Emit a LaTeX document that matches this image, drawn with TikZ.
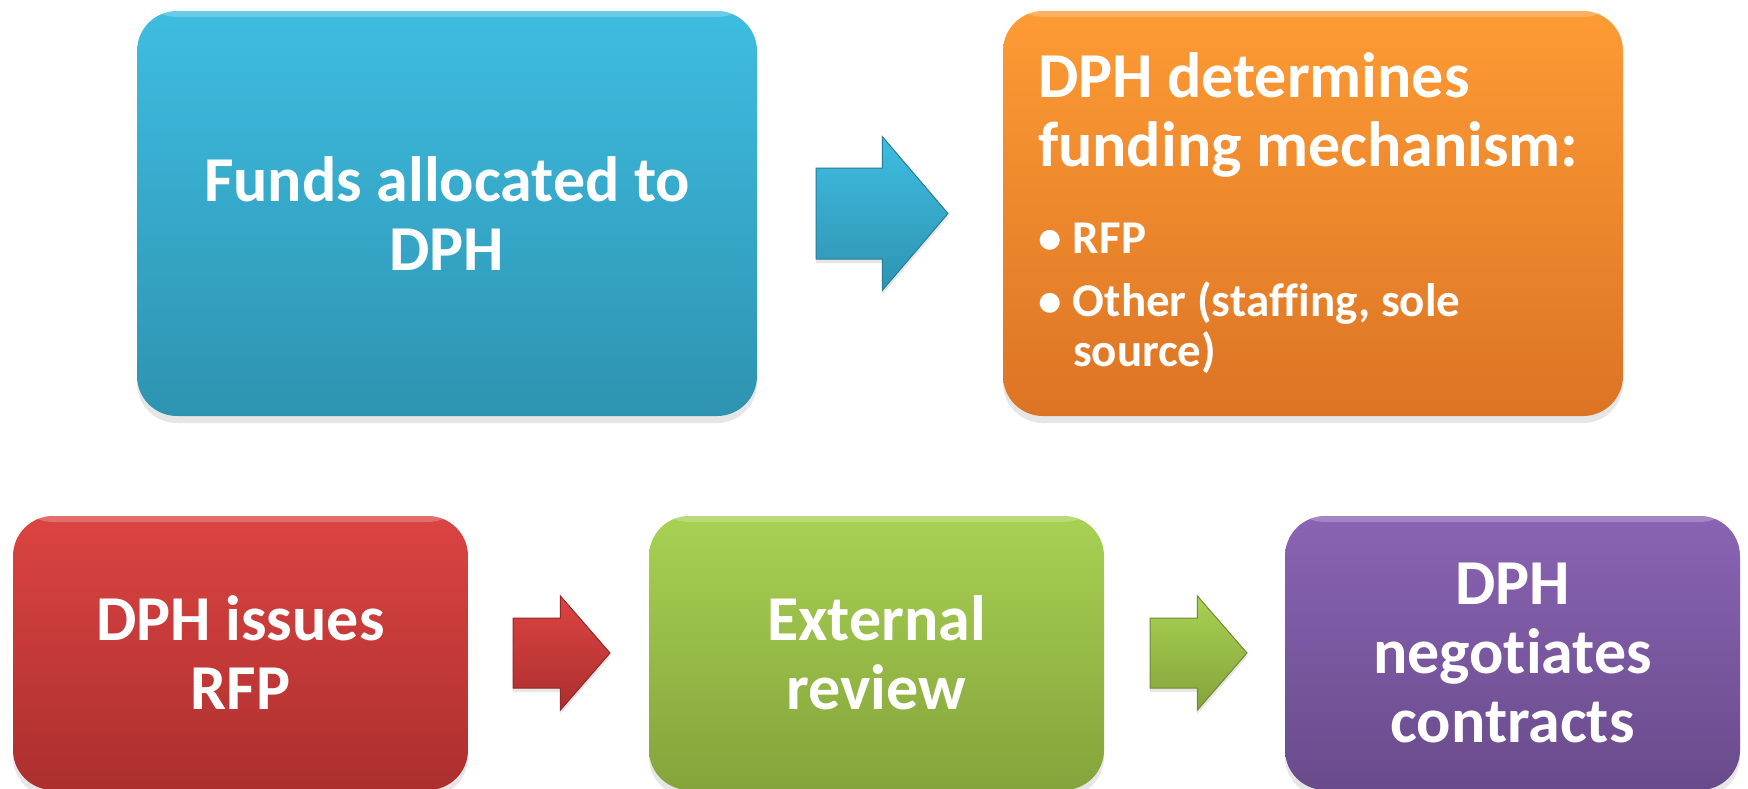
\documentclass[tikz,border=0pt]{standalone}
\usepackage{fontspec}
\setmainfont{Carlito}[Ligatures=NoCommon]
\usetikzlibrary{shapes.arrows,shadows,calc}

\definecolor{bluetop}{HTML}{3EBDE1}
\definecolor{bluebot}{HTML}{2E93B1}
\definecolor{orangetop}{HTML}{FD9B34}
\definecolor{orangebot}{HTML}{DC7425}
\definecolor{redtop}{HTML}{DB4442}
\definecolor{redbot}{HTML}{AC2F2E}
\definecolor{greentop}{HTML}{A8D153}
\definecolor{greenbot}{HTML}{85A33B}
\definecolor{purpletop}{HTML}{8A64B4}
\definecolor{purplebot}{HTML}{694B8B}

\tikzset{
  stepbox/.style={rectangle, rounded corners=20pt, inner sep=0pt, outer sep=0pt,
    text=white, font=\fontsize{32}{34.5}\selectfont\bfseries, align=center,
    drop shadow={shadow xshift=0pt, shadow yshift=-3.5pt, opacity=0.2},
    path picture={\fill[white, opacity=0.22]
      ([yshift=-3pt]path picture bounding box.north west) rectangle (path picture bounding box.north east);}},
  topbox/.style={stepbox, minimum width=310pt, minimum height=202.5pt},
  lowbox/.style={stepbox, minimum width=227.5pt, minimum height=137pt},
  bigarrow/.style={single arrow, anchor=tail, inner xsep=0pt, inner ysep=22.5pt, outer sep=0pt,
    single arrow head extend=15.75pt, single arrow tip angle=99, minimum height=66pt,
    drop shadow={shadow xshift=0pt, shadow yshift=-2pt, opacity=0.2}},
  smallarrow/.style={single arrow, anchor=tail, inner xsep=0pt, inner ysep=17.25pt, outer sep=0pt,
    single arrow head extend=11pt, single arrow tip angle=98, minimum height=48.5pt,
    drop shadow={shadow xshift=0pt, shadow yshift=-2pt, opacity=0.2}},
  shade2/.style 2 args={top color=#1, bottom color=#2},
  arrowshade/.style 2 args={top color=#1, bottom color=#2, draw=#2!85!black, line width=0.5pt},
}

\newcommand{\bulletitem}{\leavevmode\llap{\makebox[17.5pt][l]{\textbullet}}}

\begin{document}
\begin{tikzpicture}[x=0.5pt, y=-0.5pt]

    \useasboundingbox (0,0) rectangle (1748,788);

    % Top row
    \node[topbox, shade2={bluetop}{bluebot}] (fund) at (447,213.5) {Funds allocated to\\DPH};
    \node[topbox, shade2={orangetop}{orangebot}, text width=275pt, align=left,
          inner xsep=17.5pt] (mech) at (1313,213.5) {%
        \parindent=0pt\spaceskip=0pt\xspaceskip=0pt
        {\raggedright DPH determines\\funding mechanism:\par}
        \vspace{18.5pt}
        {\fontsize{23.5}{25}\selectfont\raggedright\leftskip=17.5pt
         \bulletitem RFP\par
         \vspace{6.5pt}
         \bulletitem Other (staffing, sole\\source)\par}};
    \node[bigarrow, arrowshade={bluetop}{bluebot}] (a1) at ($(fund.east)+(59,0)$) {};

    % Bottom row
    \node[lowbox, shade2={redtop}{redbot}] (issue) at (240.5,653) {DPH issues\\RFP};
    \node[lowbox, shade2={greentop}{greenbot}] (review) at (876.5,653) {External\\review};
    \node[lowbox, shade2={purpletop}{purplebot}] (negot) at (1512.5,653) {DPH\\negotiates\\contracts};
    \node[smallarrow, arrowshade={redtop}{redbot}] (a2) at ($(issue.east)+(45,0)$) {};
    \node[smallarrow, arrowshade={greentop}{greenbot}] (a3) at ($(review.east)+(46,0)$) {};

\end{tikzpicture}
\end{document}
